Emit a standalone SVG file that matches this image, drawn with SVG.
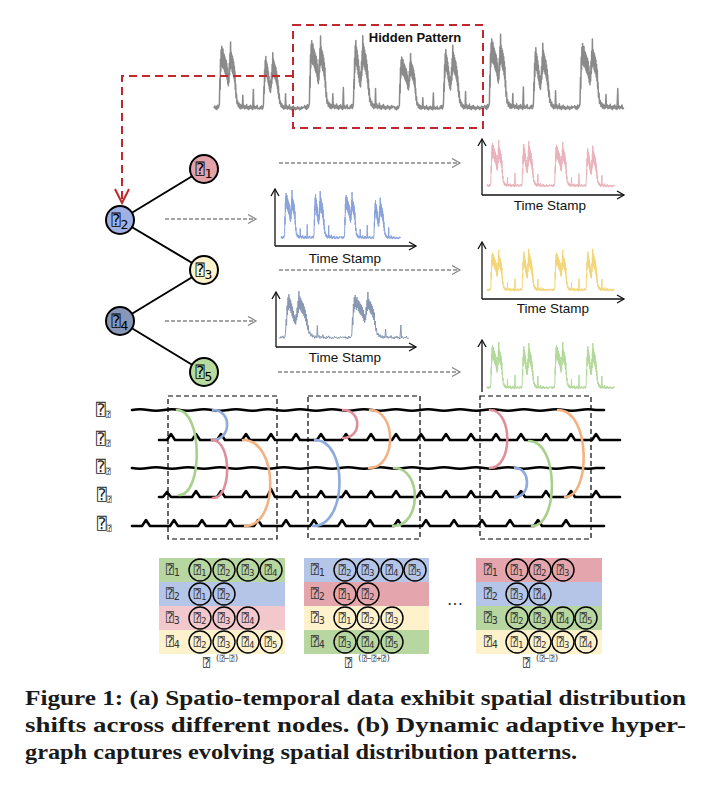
<svg xmlns="http://www.w3.org/2000/svg" xmlns:xlink="http://www.w3.org/1999/xlink" width="710" height="794" viewBox="0 0 710 794">
<style>
.q{font-family:"DejaVu Sans Mono","DejaVu Sans",monospace}
.node{stroke:#000;stroke-width:2}
.edge{stroke:#000;stroke-width:2;fill:none}
.garrow{stroke:#888;stroke-width:1.3;stroke-dasharray:4 2;fill:none}
.axis{stroke:#111;stroke-width:1.3;fill:none}
.ts{font-family:"Liberation Sans",Arial,sans-serif;font-size:13.5px;fill:#111}
.series{fill:none;stroke-linejoin:round}
.hl{stroke:#000;stroke-width:2.6;fill:none;stroke-linejoin:round;stroke-linecap:round}
.arc{fill:none;stroke-width:2.6;stroke-linecap:round}
.dbox{fill:none;stroke:#000;stroke-width:1.2;stroke-dasharray:5 3}
.cell{stroke:#000;stroke-width:1.4;fill:none}
.ct{font-size:12px;fill:#333;text-anchor:middle}
.rl{font-size:13px;fill:#333}
.hr{font-size:16px;fill:#222}
.cap{font-family:"Liberation Serif","Times New Roman",serif;font-weight:bold;font-size:21px;fill:#1a1a1a}
</style>
<defs>
<marker id="ag" markerUnits="userSpaceOnUse" markerWidth="12" markerHeight="12" refX="9" refY="5" orient="auto"><path d="M1,0.5 L9,5 L1,9.5" fill="none" stroke="#888" stroke-width="1.3"/></marker>
<marker id="ak" markerUnits="userSpaceOnUse" markerWidth="12" markerHeight="12" refX="8" refY="5" orient="auto"><path d="M1,1 L8,5 L1,9" fill="none" stroke="#111" stroke-width="1.3"/></marker>
<marker id="ar" markerUnits="userSpaceOnUse" markerWidth="20" markerHeight="20" refX="15" refY="8" orient="auto"><path d="M1,1 L15,8 L1,15" fill="none" stroke="#c0282d" stroke-width="2"/></marker>
<path id="day1" vector-effect="non-scaling-stroke" d="M0,-4 L1.5,-7 3,-3 4.5,-6 6,-2 7.5,-8 9,-4 10.5,-6 12,-10 13,-45 13.7,-30 14.4,-72 15.1,-55 15.8,-85 16.5,-62 17.2,-90 17.9,-66 18.6,-82 19.3,-60 20,-86 20.7,-64 21.4,-80 22.1,-58 22.8,-78 23.5,-55 24.2,-75 24.9,-52 25.6,-72 26.3,-50 27,-70 27.7,-48 28.4,-66 29.1,-44 29.8,-60 30.5,-38 31.2,-52 31.9,-35 32.6,-50 33.3,-40 34,-66 34.7,-50 35.4,-80 36.1,-58 36.8,-96 37.5,-62 38.2,-82 38.9,-60 39.6,-78 40.3,-55 41,-76 41.7,-52 42.4,-72 43.1,-50 43.8,-68 44.5,-45 45.2,-62 45.9,-40 46.6,-55 47.3,-30 48,-38 49,-18 50,-24 51,-10 52.5,-14 54,-6 55.5,-11 57,-4 58.5,-9 60,-3 61.5,-8 63,-4 64,-22 65,-5 66.5,-8 68,-3 69.5,-7 71,-4 72.5,-9 74,-3 75.5,-6 77,-2 78.5,-7 80,-4 81.5,-8 83,-3 84.5,-6 86,-2 87.5,-30 88.5,-4 90,-7 91.5,-3 93,-6 94.5,-4 96,-8 97.5,-3 100,-4"/>
<path id="day2" vector-effect="non-scaling-stroke" d="M0,-5 L1.5,-3 3,-7 4.5,-4 6,-8 7.5,-3 9,-6 10,-12 11,-40 11.7,-28 12.4,-66 13.1,-48 13.8,-82 14.5,-58 15.2,-88 15.9,-62 16.6,-80 17.3,-56 18,-76 18.7,-52 19.4,-70 20.1,-46 20.8,-64 21.5,-42 22.2,-56 22.9,-36 23.6,-48 24.3,-32 25,-45 25.7,-30 26.4,-50 27.1,-38 27.8,-62 28.5,-44 29.2,-75 29.9,-52 30.6,-94 31.3,-60 32,-84 32.7,-58 33.4,-80 34.1,-55 34.8,-76 35.5,-52 36.2,-72 36.9,-50 37.6,-70 38.3,-46 39,-64 39.7,-42 40.4,-58 41.1,-36 41.8,-50 42.5,-28 43.2,-40 44,-20 45,-28 46,-12 47.5,-16 49,-7 50.5,-12 52,-5 53.5,-9 55,-3 56.5,-8 58,-4 59,-28 60,-5 61.5,-9 63,-3 64.5,-7 66,-4 67.5,-10 69,-3 70.5,-6 72,-2 73.5,-7 75,-4 76.5,-8 78,-3 79.5,-6 81,-2 82.5,-5 84,-3 85.5,-7 87,-4 88.5,-6 90,-2 91.5,-5 93,-3 94.5,-7 96,-4 97.5,-6 100,-5"/>
</defs>
<rect width="710" height="794" fill="#fff"/>

<!-- top time series -->
<g id="series-top" class="series" stroke="#8a8a8a" stroke-width="1.5">
<use xlink:href="#day1" transform="translate(214,111) scale(0.45,0.72)"/>
<use xlink:href="#day2" transform="translate(259,111) scale(0.45,0.62)"/>
<use xlink:href="#day1" transform="translate(304,111) scale(0.45,0.78)"/>
<use xlink:href="#day2" transform="translate(349,111) scale(0.45,0.8)"/>
<use xlink:href="#day1" transform="translate(394,111) scale(0.45,0.6)"/>
<use xlink:href="#day2" transform="translate(439,111) scale(0.45,0.7)"/>
<use xlink:href="#day1" transform="translate(484,111) scale(0.45,0.8)"/>
<use xlink:href="#day2" transform="translate(529,111) scale(0.45,0.72)"/>
<use xlink:href="#day1" transform="translate(574,111) scale(0.5,0.75)"/>
</g>
<g id="hidden-pattern">
<rect x="293" y="25" width="190" height="103" fill="none" stroke="#c0282d" stroke-width="2" stroke-dasharray="8 5"/>
<text x="415" y="42" text-anchor="middle" font-family="Liberation Sans, Arial, sans-serif" font-weight="bold" font-size="13" fill="#111">Hidden Pattern</text>
</g>

<!-- connectors -->
<g id="connectors">
<path d="M293,76 H122 V203" fill="none" stroke="#c0282d" stroke-width="2" stroke-dasharray="8 5" marker-end="url(#ar)"/>
<path class="edge" d="M120,220 L204,169"/>
<path class="edge" d="M120,220 L204,270"/>
<path class="edge" d="M120,321 L204,270"/>
<path class="edge" d="M120,321 L204,372"/>
<path class="garrow" d="M279,163 H460" marker-end="url(#ag)"/>
<path class="garrow" d="M165,219 H256" marker-end="url(#ag)"/>
<path class="garrow" d="M279,270 H460" marker-end="url(#ag)"/>
<path class="garrow" d="M165,321 H256" marker-end="url(#ag)"/>
<path class="garrow" d="M278,372 H460" marker-end="url(#ag)"/>
</g>

<!-- tree nodes -->
<g id="node-v1"><circle class="node" cx="204" cy="169" r="14" fill="#e3a3a9"/><text class="q" x="204" y="174" text-anchor="middle" font-size="15">⍰<tspan font-size="13" dy="4">1</tspan></text></g>
<g id="node-v2"><circle class="node" cx="120" cy="220" r="14" fill="#9fb1e3"/><text class="q" x="120" y="225" text-anchor="middle" font-size="15">⍰<tspan font-size="13" dy="4">2</tspan></text></g>
<g id="node-v3"><circle class="node" cx="204" cy="270" r="14" fill="#fdf3cb"/><text class="q" x="204" y="275" text-anchor="middle" font-size="15">⍰<tspan font-size="13" dy="4">3</tspan></text></g>
<g id="node-v4"><circle class="node" cx="120" cy="321" r="14" fill="#8797b5"/><text class="q" x="120" y="326" text-anchor="middle" font-size="15">⍰<tspan font-size="13" dy="4">4</tspan></text></g>
<g id="node-v5"><circle class="node" cx="204" cy="372" r="14" fill="#b7da9f"/><text class="q" x="204" y="377" text-anchor="middle" font-size="15">⍰<tspan font-size="13" dy="4">5</tspan></text></g>

<!-- plots -->
<g id="plot-v2">
<g class="series" stroke="#8aa3dd" stroke-width="1">
<use xlink:href="#day1" transform="translate(281,240) scale(0.3,0.52)"/>
<use xlink:href="#day2" transform="translate(311,240) scale(0.3,0.52)"/>
<use xlink:href="#day1" transform="translate(341,240) scale(0.3,0.5)"/>
<use xlink:href="#day2" transform="translate(371,240) scale(0.3,0.45)"/>
</g>
<path class="axis" d="M275,246 V189" marker-end="url(#ak)"/>
<path class="axis" d="M275,246 H416" marker-end="url(#ak)"/>
<text class="ts" x="345" y="263" text-anchor="middle">Time Stamp</text>
</g>
<g id="plot-v1">
<g class="series" stroke="#eab3bb" stroke-width="1">
<use xlink:href="#day1" transform="translate(487,188) scale(0.32,0.5)"/>
<use xlink:href="#day2" transform="translate(519,188) scale(0.32,0.5)"/>
<use xlink:href="#day1" transform="translate(551,188) scale(0.32,0.48)"/>
<use xlink:href="#day2" transform="translate(583,188) scale(0.32,0.45)"/>
</g>
<path class="axis" d="M482,195 V139" marker-end="url(#ak)"/>
<path class="axis" d="M482,195 H624" marker-end="url(#ak)"/>
<text class="ts" x="550" y="210" text-anchor="middle">Time Stamp</text>
</g>
<g id="plot-v3">
<g class="series" stroke="#f3d677" stroke-width="1">
<use xlink:href="#day1" transform="translate(487,292) scale(0.32,0.44)"/>
<use xlink:href="#day2" transform="translate(519,292) scale(0.32,0.46)"/>
<use xlink:href="#day1" transform="translate(551,292) scale(0.32,0.44)"/>
<use xlink:href="#day2" transform="translate(583,292) scale(0.32,0.46)"/>
</g>
<path class="axis" d="M482,299 V242" marker-end="url(#ak)"/>
<path class="axis" d="M482,299 H624" marker-end="url(#ak)"/>
<text class="ts" x="553" y="313" text-anchor="middle">Time Stamp</text>
</g>
<g id="plot-v4">
<g class="series" stroke="#8796b2" stroke-width="1">
<use xlink:href="#day2" transform="translate(279,340) scale(0.65,0.52)"/>
<use xlink:href="#day1" transform="translate(344,340) scale(0.65,0.5)"/>
</g>
<path class="axis" d="M276,347 V292" marker-end="url(#ak)"/>
<path class="axis" d="M276,347 H416" marker-end="url(#ak)"/>
<text class="ts" x="345" y="362" text-anchor="middle">Time Stamp</text>
</g>
<g id="plot-v5">
<g class="series" stroke="#b3da9a" stroke-width="1">
<use xlink:href="#day1" transform="translate(487,390) scale(0.32,0.5)"/>
<use xlink:href="#day2" transform="translate(519,390) scale(0.32,0.5)"/>
<use xlink:href="#day1" transform="translate(551,390) scale(0.32,0.5)"/>
<use xlink:href="#day2" transform="translate(583,390) scale(0.32,0.5)"/>
</g>
<path class="axis" d="M482,392 V340" marker-end="url(#ak)"/>
</g>

<!-- hypergraph -->
<g id="hypergraph">
<g class="q hr">
<text x="96" y="415">⍰<tspan font-size="8" dy="2">⍰</tspan></text>
<text x="96" y="444">⍰<tspan font-size="8" dy="2">⍰</tspan></text>
<text x="96" y="472">⍰<tspan font-size="8" dy="2">⍰</tspan></text>
<text x="97" y="500">⍰<tspan font-size="8" dy="2">⍰</tspan></text>
<text x="97" y="529">⍰<tspan font-size="8" dy="2">⍰</tspan></text>
</g>
<path class="hl" d="M132,410 q8,-1.5 16,0 t16,0 t16,0 t16,0 t16,0 t16,0 t16,0 t16,0 t16,0 t16,0 t16,0 t16,0 t16,0 t16,0 t16,0 t16,0 t16,0 t16,0 t16,0 t16,0 t16,0 t16,0 t16,0 t16,0 t16,0 t16,0 t16,0 t16,0 t16,0 l8,0"/>
<path class="hl" d="M159,440 h8 l4,-6 l4,6 h9 h8 l4,-6 l4,6 h9 h8 l4,-6 l4,6 h9 h8 l4,-6 l4,6 h9 h8 l4,-6 l4,6 h9 h8 l4,-6 l4,6 h9 h8 l4,-6 l4,6 h9 h8 l4,-6 l4,6 h9 h8 l4,-6 l4,6 h9 h8 l4,-6 l4,6 h9 h8 l4,-6 l4,6 h9 h8 l4,-6 l4,6 h9 h8 l4,-6 l4,6 h9 h8 l4,-6 l4,6 h9 h8 l4,-6 l4,6 h9 h8 l4,-6 l4,6 h9 h8 l4,-6 l4,6 h9 h8 l4,-6 l4,6 h9 h11"/>
<path class="hl" d="M132,468 q8,1.5 16,0 t16,0 t16,0 t16,0 t16,0 t16,0 t16,0 t16,0 t16,0 t16,0 t16,0 t16,0 t16,0 t16,0 t16,0 t16,0 t16,0 t16,0 t16,0 t16,0 t16,0 t16,0 t16,0 t16,0 t16,0 t16,0 t16,0 t16,0 t16,0 l8,0"/>
<path class="hl" d="M159,497 h4 l4,-5 l4,5 h13 h8 l4,-6 l4,6 h9 h8 l4,-6 l4,6 h9 h8 l4,-6 l4,6 h9 h8 l4,-8 l4,8 h9 h8 l4,-6 l4,6 h9 h8 l4,-6 l4,6 h9 h8 l4,-6 l4,6 h9 h8 l4,-6 l4,6 h9 h8 l4,-6 l4,6 h9 h8 l4,-6 l4,6 h9 h8 l4,-6 l4,6 h9 h8 l4,-6 l4,6 h9 h8 l4,-6 l4,6 h9 h8 l4,-6 l4,6 h9 h8 l4,-6 l4,6 h9 h8 l4,-6 l4,6 h9 h8 l4,-6 l4,6 h9 h11"/>
<path class="hl" d="M132,526 h10 l4,-6 l4,6 h10 h10 l4,-6 l4,6 h10 h10 l4,-6 l4,6 h10 h10 l4,-6 l4,6 h10 h10 l4,-6 l4,6 h10 h10 l4,-6 l4,6 h10 h10 l4,-6 l4,6 h10 h10 l4,-6 l4,6 h10 h10 l4,-6 l4,6 h10 h10 l4,-6 l4,6 h10 h10 l4,-6 l4,6 h10 h10 l4,-6 l4,6 h10 h10 l4,-6 l4,6 h10 h10 l4,-6 l4,6 h10 h10 l4,-6 l4,6 h10 h10 l4,-6 l4,6 h10 h24"/>
<rect class="dbox" x="168" y="396" width="109" height="143"/>
<rect class="dbox" x="308" y="396" width="112" height="143"/>
<rect class="dbox" x="480" y="396" width="111" height="143"/>
<path class="arc" stroke="#a8d08d" d="M177,410 C203,410 203,495 179,495"/>
<path class="arc" stroke="#8faadc" d="M213,410 C232,410 232,440 212,440"/>
<path class="arc" stroke="#e08f9a" d="M212,440 C232,440 232,498 213,498"/>
<path class="arc" stroke="#f4b183" d="M243,440 C279,440 279,526 245,526"/>
<path class="arc" stroke="#e08f9a" d="M343,410 C362,410 362,438 343,438"/>
<path class="arc" stroke="#f4b183" d="M370,410 C397,410 397,468 369,468"/>
<path class="arc" stroke="#8faadc" d="M315,440 C348,440 348,526 313,526"/>
<path class="arc" stroke="#a8d08d" d="M394,468 C422,468 422,526 393,526"/>
<path class="arc" stroke="#e08f9a" d="M490,410 C513,410 513,468 490,468"/>
<path class="arc" stroke="#f4b183" d="M558,410 C591,410 591,497 565,497"/>
<path class="arc" stroke="#8faadc" d="M515,468 C531,468 531,497 515,497"/>
<path class="arc" stroke="#a8d08d" d="M529,441 C559,441 559,526 532,526"/>
</g>

<!-- tables -->
<g id="table-1">
<rect x="159" y="558" width="126" height="24" fill="#b7d6a0"/>
<rect x="159" y="582" width="126" height="24" fill="#b4c5e7"/>
<rect x="159" y="606" width="126" height="24" fill="#f2c8cd"/>
<rect x="159" y="630" width="126" height="24" fill="#fdf2cc"/>
<g class="q rl"><text x="166" y="574">⍰<tspan font-size="10" dy="2">1</tspan></text><text x="166" y="598">⍰<tspan font-size="10" dy="2">2</tspan></text><text x="166" y="622">⍰<tspan font-size="10" dy="2">3</tspan></text><text x="166" y="646">⍰<tspan font-size="10" dy="2">4</tspan></text></g>
<g class="cell"><circle cx="200" cy="570" r="11"/><circle cx="224" cy="570" r="11"/><circle cx="248" cy="570" r="11"/><circle cx="271" cy="570" r="11"/>
<circle cx="200" cy="594" r="11"/><circle cx="224" cy="594" r="11"/>
<circle cx="200" cy="618" r="11"/><circle cx="224" cy="618" r="11"/><circle cx="248" cy="618" r="11"/>
<circle cx="200" cy="642" r="11"/><circle cx="224" cy="642" r="11"/><circle cx="248" cy="642" r="11"/><circle cx="271" cy="642" r="11"/></g>
<g class="q ct">
<text x="200" y="574">⍰<tspan font-size="9" dy="2">1</tspan></text><text x="224" y="574">⍰<tspan font-size="9" dy="2">2</tspan></text><text x="248" y="574">⍰<tspan font-size="9" dy="2">3</tspan></text><text x="271" y="574">⍰<tspan font-size="9" dy="2">4</tspan></text>
<text x="200" y="598">⍰<tspan font-size="9" dy="2">1</tspan></text><text x="224" y="598">⍰<tspan font-size="9" dy="2">2</tspan></text>
<text x="200" y="622">⍰<tspan font-size="9" dy="2">2</tspan></text><text x="224" y="622">⍰<tspan font-size="9" dy="2">3</tspan></text><text x="248" y="622">⍰<tspan font-size="9" dy="2">4</tspan></text>
<text x="200" y="646">⍰<tspan font-size="9" dy="2">2</tspan></text><text x="224" y="646">⍰<tspan font-size="9" dy="2">3</tspan></text><text x="248" y="646">⍰<tspan font-size="9" dy="2">4</tspan></text><text x="271" y="646">⍰<tspan font-size="9" dy="2">5</tspan></text>
</g>
<text class="q" x="221" y="667" text-anchor="middle" font-size="12" fill="#333">⍰<tspan font-size="8" dy="-6"> (⍰−⍰)</tspan></text>
</g>

<g id="table-2">
<rect x="304" y="558" width="125" height="24" fill="#b4c5e7"/>
<rect x="304" y="582" width="125" height="24" fill="#e4a6ac"/>
<rect x="304" y="606" width="125" height="24" fill="#fdf2cc"/>
<rect x="304" y="630" width="125" height="24" fill="#b7d6a0"/>
<g class="q rl"><text x="311" y="574">⍰<tspan font-size="10" dy="2">1</tspan></text><text x="311" y="598">⍰<tspan font-size="10" dy="2">2</tspan></text><text x="311" y="622">⍰<tspan font-size="10" dy="2">3</tspan></text><text x="311" y="646">⍰<tspan font-size="10" dy="2">4</tspan></text></g>
<g class="cell"><circle cx="345" cy="570" r="11"/><circle cx="368" cy="570" r="11"/><circle cx="392" cy="570" r="11"/><circle cx="415" cy="570" r="11"/>
<circle cx="345" cy="594" r="11"/><circle cx="368" cy="594" r="11"/>
<circle cx="345" cy="618" r="11"/><circle cx="368" cy="618" r="11"/><circle cx="392" cy="618" r="11"/>
<circle cx="345" cy="642" r="11"/><circle cx="368" cy="642" r="11"/><circle cx="392" cy="642" r="11"/></g>
<g class="q ct">
<text x="345" y="574">⍰<tspan font-size="9" dy="2">2</tspan></text><text x="368" y="574">⍰<tspan font-size="9" dy="2">3</tspan></text><text x="392" y="574">⍰<tspan font-size="9" dy="2">4</tspan></text><text x="415" y="574">⍰<tspan font-size="9" dy="2">5</tspan></text>
<text x="345" y="598">⍰<tspan font-size="9" dy="2">1</tspan></text><text x="368" y="598">⍰<tspan font-size="9" dy="2">2</tspan></text>
<text x="345" y="622">⍰<tspan font-size="9" dy="2">1</tspan></text><text x="368" y="622">⍰<tspan font-size="9" dy="2">2</tspan></text><text x="392" y="622">⍰<tspan font-size="9" dy="2">3</tspan></text>
<text x="345" y="646">⍰<tspan font-size="9" dy="2">3</tspan></text><text x="368" y="646">⍰<tspan font-size="9" dy="2">4</tspan></text><text x="392" y="646">⍰<tspan font-size="9" dy="2">5</tspan></text>
</g>
<text class="q" x="368" y="667" text-anchor="middle" font-size="12" fill="#333">⍰<tspan font-size="8" dy="-6"> (⍰−⍰+⍰)</tspan></text>
</g>

<text x="455" y="610" text-anchor="middle" font-family="Liberation Serif, serif" font-size="16" fill="#222">···</text>

<g id="table-3">
<rect x="476" y="558" width="126" height="24" fill="#e4a6ac"/>
<rect x="476" y="582" width="126" height="24" fill="#b4c5e7"/>
<rect x="476" y="606" width="126" height="24" fill="#b7d6a0"/>
<rect x="476" y="630" width="126" height="24" fill="#fdf2cc"/>
<g class="q rl"><text x="484" y="574">⍰<tspan font-size="10" dy="2">1</tspan></text><text x="484" y="598">⍰<tspan font-size="10" dy="2">2</tspan></text><text x="484" y="622">⍰<tspan font-size="10" dy="2">3</tspan></text><text x="484" y="646">⍰<tspan font-size="10" dy="2">4</tspan></text></g>
<g class="cell"><circle cx="517" cy="570" r="11"/><circle cx="540" cy="570" r="11"/><circle cx="563" cy="570" r="11"/>
<circle cx="517" cy="594" r="11"/><circle cx="540" cy="594" r="11"/>
<circle cx="517" cy="618" r="11"/><circle cx="540" cy="618" r="11"/><circle cx="563" cy="618" r="11"/><circle cx="586" cy="618" r="11"/>
<circle cx="517" cy="642" r="11"/><circle cx="540" cy="642" r="11"/><circle cx="563" cy="642" r="11"/><circle cx="586" cy="642" r="11"/></g>
<g class="q ct">
<text x="517" y="574">⍰<tspan font-size="9" dy="2">1</tspan></text><text x="540" y="574">⍰<tspan font-size="9" dy="2">2</tspan></text><text x="563" y="574">⍰<tspan font-size="9" dy="2">3</tspan></text>
<text x="517" y="598">⍰<tspan font-size="9" dy="2">3</tspan></text><text x="540" y="598">⍰<tspan font-size="9" dy="2">4</tspan></text>
<text x="517" y="622">⍰<tspan font-size="9" dy="2">2</tspan></text><text x="540" y="622">⍰<tspan font-size="9" dy="2">3</tspan></text><text x="563" y="622">⍰<tspan font-size="9" dy="2">4</tspan></text><text x="586" y="622">⍰<tspan font-size="9" dy="2">5</tspan></text>
<text x="517" y="646">⍰<tspan font-size="9" dy="2">1</tspan></text><text x="540" y="646">⍰<tspan font-size="9" dy="2">2</tspan></text><text x="563" y="646">⍰<tspan font-size="9" dy="2">3</tspan></text><text x="586" y="646">⍰<tspan font-size="9" dy="2">4</tspan></text>
</g>
<text class="q" x="541" y="667" text-anchor="middle" font-size="12" fill="#333">⍰<tspan font-size="8" dy="-6"> (⍰−⍰)</tspan></text>
</g>

<!-- caption -->
<g id="caption" class="cap">
<text x="25" y="705" textLength="661" lengthAdjust="spacingAndGlyphs">Figure 1: (a) Spatio-temporal data exhibit spatial distribution</text>
<text x="25" y="732" textLength="661" lengthAdjust="spacingAndGlyphs">shifts across different nodes. (b) Dynamic adaptive hyper-</text>
<text x="25" y="759" textLength="552" lengthAdjust="spacingAndGlyphs">graph captures evolving spatial distribution patterns.</text>
</g>
</svg>
